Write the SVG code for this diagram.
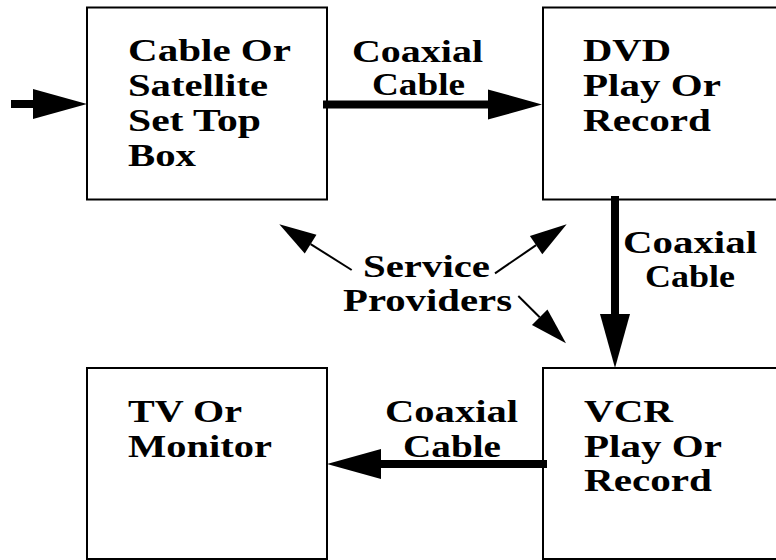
<svg xmlns="http://www.w3.org/2000/svg" width="776" height="560" viewBox="0 0 776 560">
  <style>
    .box { fill: #ffffff; stroke: #000000; stroke-width: 2; }
    .lbl { font-family: "Liberation Serif", "Times New Roman", serif; font-weight: bold; font-size: 32px; fill: #000000; }
    .thick { stroke: #000000; stroke-width: 8; fill: none; marker-end: url(#bigHead); }
    .thin { stroke: #000000; stroke-width: 2; fill: none; marker-end: url(#smallHead); }
  </style>
  <defs>
    <marker id="bigHead" markerUnits="userSpaceOnUse" markerWidth="56" markerHeight="32" refX="0" refY="15" orient="auto" overflow="visible">
      <path d="M0,0 L54,15 L0,30 Z" fill="#000000"/>
    </marker>
    <marker id="smallHead" markerUnits="userSpaceOnUse" markerWidth="40" markerHeight="24" refX="0" refY="11" orient="auto" overflow="visible">
      <path d="M0,0 L37,11 L0,22 Z" fill="#000000"/>
    </marker>
  </defs>
  <rect width="776" height="560" fill="#ffffff"/>

  <g id="node-settop">
    <rect class="box" x="87" y="7.5" width="240" height="192"/>
    <text class="lbl" x="128" y="61" textLength="163" lengthAdjust="spacingAndGlyphs">Cable Or</text>
    <text class="lbl" x="128" y="96" textLength="140" lengthAdjust="spacingAndGlyphs">Satellite</text>
    <text class="lbl" x="128" y="131" textLength="133" lengthAdjust="spacingAndGlyphs">Set Top</text>
    <text class="lbl" x="128" y="166" textLength="68" lengthAdjust="spacingAndGlyphs">Box</text>
  </g>

  <g id="node-dvd">
    <rect class="box" x="543" y="7.5" width="250" height="192"/>
    <text class="lbl" x="583" y="61" textLength="88" lengthAdjust="spacingAndGlyphs">DVD</text>
    <text class="lbl" x="583" y="96" textLength="138" lengthAdjust="spacingAndGlyphs">Play Or</text>
    <text class="lbl" x="583" y="131" textLength="128" lengthAdjust="spacingAndGlyphs">Record</text>
  </g>

  <g id="node-vcr">
    <rect class="box" x="543" y="368" width="250" height="191"/>
    <text class="lbl" x="584" y="422" textLength="89" lengthAdjust="spacingAndGlyphs">VCR</text>
    <text class="lbl" x="584" y="457" textLength="138" lengthAdjust="spacingAndGlyphs">Play Or</text>
    <text class="lbl" x="584" y="491" textLength="128" lengthAdjust="spacingAndGlyphs">Record</text>
  </g>

  <g id="node-tv">
    <rect class="box" x="87" y="368" width="240" height="191"/>
    <text class="lbl" x="128" y="422" textLength="114" lengthAdjust="spacingAndGlyphs">TV Or</text>
    <text class="lbl" x="128" y="457" textLength="144" lengthAdjust="spacingAndGlyphs">Monitor</text>
  </g>

  <g id="node-service">
    <text class="lbl" x="363" y="277" textLength="127" lengthAdjust="spacingAndGlyphs">Service</text>
    <text class="lbl" x="343" y="311" textLength="169" lengthAdjust="spacingAndGlyphs">Providers</text>
  </g>

  <g id="connectors">
    <line class="thick" x1="11" y1="104" x2="33" y2="104"/>
    <line class="thick" x1="323" y1="104.5" x2="488" y2="104.5"/>
    <line class="thick" x1="615" y1="196" x2="615" y2="314"/>
    <line class="thick" x1="547" y1="464" x2="381" y2="464"/>
    <line class="thin" x1="351.7" y1="270" x2="310.6" y2="244.1"/>
    <line class="thin" x1="495" y1="273.3" x2="536.1" y2="245.2"/>
    <line class="thin" x1="518.3" y1="296" x2="539.7" y2="317.2"/>
  </g>

  <g id="connector-labels">
    <text class="lbl" x="352" y="62" textLength="131" lengthAdjust="spacingAndGlyphs">Coaxial</text>
    <text class="lbl" x="372" y="95" textLength="93" lengthAdjust="spacingAndGlyphs">Cable</text>
    <text class="lbl" x="623" y="253" textLength="134" lengthAdjust="spacingAndGlyphs">Coaxial</text>
    <text class="lbl" x="645" y="287" textLength="90" lengthAdjust="spacingAndGlyphs">Cable</text>
    <text class="lbl" x="385" y="422" textLength="133" lengthAdjust="spacingAndGlyphs">Coaxial</text>
    <text class="lbl" x="403" y="457" textLength="98" lengthAdjust="spacingAndGlyphs">Cable</text>
  </g>
</svg>
